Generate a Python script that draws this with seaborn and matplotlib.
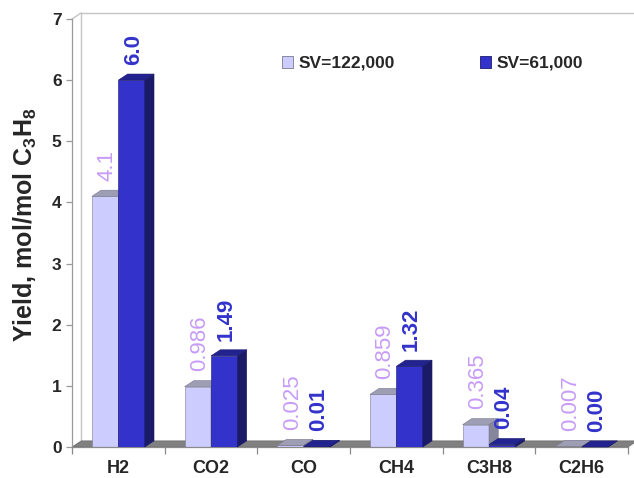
import numpy as np
import pandas as pd
import seaborn as sns
import matplotlib.pyplot as plt
from matplotlib.patches import Polygon, Patch

# Product yields per mole of propane at two space velocities
products = ["H2", "CO2", "CO", "CH4", "C3H8", "C2H6"]
series = ["SV=122,000", "SV=61,000"]
sv_122000 = [4.1, 0.986, 0.025, 0.859, 0.365, 0.007]
sv_61000 = [6.0, 1.49, 0.01, 1.32, 0.04, 0.00]
labels_122000 = ["4.1", "0.986", "0.025", "0.859", "0.365", "0.007"]
labels_61000 = ["6.0", "1.49", "0.01", "1.32", "0.04", "0.00"]
yticks = [0, 1, 2, 3, 4, 5, 6, 7]

df = pd.DataFrame({
    "product": products * 2,
    "yield": sv_122000 + sv_61000,
    "series": [series[0]] * len(products) + [series[1]] * len(products),
})

sns.set_style("white")
plt.rcParams["font.family"] = ["Liberation Sans", "DejaVu Sans"]
plt.rcParams["mathtext.fontset"] = "custom"
plt.rcParams["mathtext.rm"] = "Liberation Sans"
plt.rcParams["mathtext.bf"] = "Liberation Sans:bold"

# face colours: front, top, side for each series
front = ["#CCCCFF", "#3333CC"]
top = ["#9D9DB4", "#23238F"]
side = ["#85859C", "#1A1A66"]
edges = ["#7A7A90", "#1A1A70"]
label_colors = ["#C79BF7", "#3333CC"]
label_weights = ["normal", "bold"]

fig = plt.figure(figsize=(6.34, 4.78), dpi=100)
ax = fig.add_axes([72 / 634, 31 / 478, 556 / 634, 428 / 478])

sns.barplot(data=df, x="product", y="yield", hue="series", order=products,
            hue_order=series, palette=front, width=0.57, gap=0,
            saturation=1, edgecolor="#555566", linewidth=0.4,
            legend=False, ax=ax)

ax.set_xlim(-0.5, len(products) - 0.5)
ax.set_ylim(0, 7)

# depth offset of the pseudo-3D extrusion (data units)
dx, dy = 0.1, 0.1
x_lo, x_hi = -0.5, len(products) - 0.5

# back wall outline and floor
ax.plot([x_lo + dx, x_lo + dx, x_hi + dx], [dy, 7 + dy, 7 + dy],
        color="#C4C4C4", lw=1.0, clip_on=False, zorder=0.5)
ax.plot([x_lo, x_lo + dx], [7, 7 + dy], color="#C4C4C4", lw=1.0,
        clip_on=False, zorder=0.5)
ax.add_patch(Polygon([(x_lo, 0), (x_lo + dx, dy), (x_hi + dx, dy), (x_hi, 0)],
                     closed=True, fc="#808080", ec="#6A6A6A", lw=0.5,
                     clip_on=False, zorder=1))

all_labels = [labels_122000, labels_61000]
for ci, cont in enumerate(ax.containers):
    z = 2 + ci
    for bi, bar in enumerate(cont):
        x0, w, h = bar.get_x(), bar.get_width(), bar.get_height()
        x1 = x0 + w
        bar.set_zorder(z)
        bar.set_edgecolor(edges[ci])
        ax.add_patch(Polygon([(x0, h), (x0 + dx, h + dy), (x1 + dx, h + dy), (x1, h)],
                             closed=True, fc=top[ci], ec=edges[ci], lw=0.4,
                             zorder=z, clip_on=False))
        ax.add_patch(Polygon([(x1, 0), (x1, h), (x1 + dx, h + dy), (x1 + dx, dy)],
                             closed=True, fc=side[ci], ec=edges[ci], lw=0.4,
                             zorder=z, clip_on=False))
        ax.text(x0 + w / 2 + 0.02, h + 0.25, all_labels[ci][bi], rotation=90,
                ha="center", va="bottom", fontsize=16,
                fontweight=label_weights[ci], color=label_colors[ci], zorder=5)

# axes styling
for s in ["top", "right"]:
    ax.spines[s].set_visible(False)
ax.spines["left"].set_color("#9A9A9A")
ax.spines["bottom"].set_color("#8A8A8A")
ax.spines["left"].set_linewidth(0.9)
ax.spines["bottom"].set_linewidth(0.9)

ax.set_yticks(yticks)
ax.set_yticklabels([str(t) for t in yticks], fontsize=12.5, fontweight="bold")
ax.tick_params(axis="y", which="major", length=4.5, width=0.9, color="#9A9A9A",
               pad=3, left=True)
ax.set_xticks(range(len(products)))
ax.set_xticklabels(products, fontsize=13, fontweight="bold")
ax.set_xticks(np.arange(x_lo, x_hi + 0.01, 1.0), minor=True)
ax.tick_params(axis="x", which="major", length=0, pad=9.5)
ax.tick_params(axis="x", which="minor", length=5, width=0.9, color="#8A8A8A",
               bottom=True)
ax.set_xlabel("")
ax.set_ylabel(r"Yield, mol/mol C$_\mathbf{3}$H$_\mathbf{8}$", fontsize=18,
              fontweight="bold")
ax.yaxis.set_label_coords(-0.06, 0.52)

handles = [Patch(facecolor=front[i], edgecolor=edges[i], lw=0.6, label=series[i])
           for i in range(2)]
fig.legend(handles=handles, loc="center left", ncol=2, frameon=False,
           bbox_to_anchor=(282 / 634, 1 - 63.5 / 478),
           borderaxespad=0, borderpad=0,
           prop={"size": 12.5, "weight": "bold"},
           handlelength=0.65, handleheight=0.65, handletextpad=0.3,
           columnspacing=4.9)

fig.savefig("out.png", dpi=100)
